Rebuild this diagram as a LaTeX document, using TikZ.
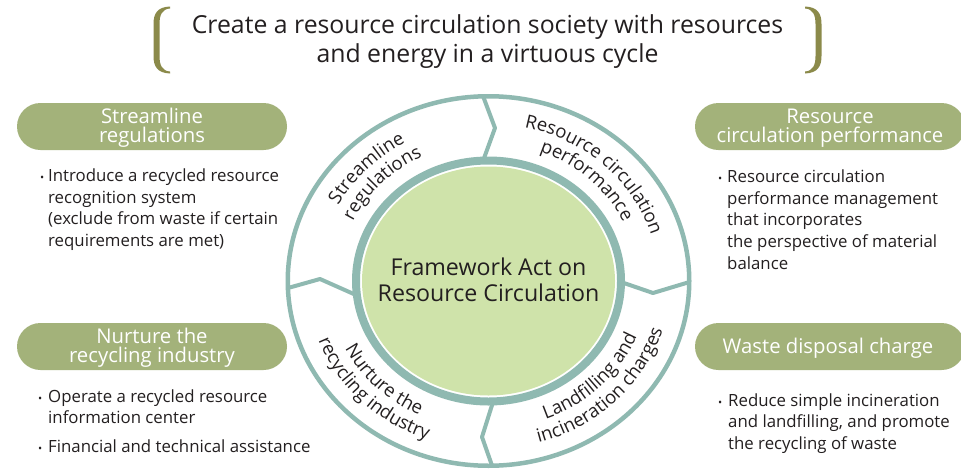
\documentclass[tikz,border=0pt]{standalone}
\usepackage{fontspec}
\setmainfont{Open Sans}
\usetikzlibrary{decorations.text,calc}
\definecolor{pillc}{HTML}{A3B27A}
\definecolor{ringc}{HTML}{8FB9B1}
\definecolor{corec}{HTML}{CFE3AA}
\definecolor{brkc}{HTML}{8B8A4A}
\definecolor{inkc}{HTML}{231F20}
\newcommand\titlef{\fontsize{24.8}{27}\selectfont}
\newcommand\pillf{\fontsize{20.3}{22}\selectfont}
\newcommand\bulf{\fontsize{16.8}{20}\selectfont}
\newcommand\ctrf{\fontsize{23.2}{27}\selectfont}
\newcommand\arcf{\fontsize{18.5}{20}\selectfont\color{inkc}}
\newcommand\arcline[5]{%
  \path[decorate,decoration={text along path,text align=center,text={|\arcf|#5}}]
    ($(C)+(#1:#3 and #4)$) arc[start angle=#1,end angle=#2,x radius=#3,y radius=#4];}
\tikzset{
  pillbox/.style={fill=pillc,draw=none,rounded corners=23.5pt,minimum width=270pt,minimum height=47pt,inner sep=0pt},
  pilltxt/.style={inner sep=0pt,anchor=base,text=white,font=\pillf},
  bultxt/.style={inner sep=0pt,anchor=base west,text=inkc,font=\bulf},
  bulmark/.style={inner sep=0pt,anchor=base west,text=inkc,font=\fontsize{11}{12}\selectfont},
  ringline/.style={draw=ringc,line width=4pt,line join=round},
}
\begin{document}
\begin{tikzpicture}[x=1pt,y=1pt]
\useasboundingbox (0,0) rectangle (961,-469);
\fill[white] (0,0) rectangle (961,-469);
% title brackets
\fill[brkc] (170,-6.5) .. controls (157,-7) and (153.5,-14) .. (153.5,-24) -- (153.5,-56)
  .. controls (153.5,-66) and (157,-73) .. (170,-73.5) -- (170,-71.5)
  .. controls (162,-71) and (159.5,-65) .. (159.5,-56) -- (159.5,-24)
  .. controls (159.5,-15) and (162,-9) .. (170,-8.5) -- cycle;
\begin{scope}[shift={(975,0)},xscale=-1]
\fill[brkc] (170,-6.5) .. controls (157,-7) and (153.5,-14) .. (153.5,-24) -- (153.5,-56)
  .. controls (153.5,-66) and (157,-73) .. (170,-73.5) -- (170,-71.5)
  .. controls (162,-71) and (159.5,-65) .. (159.5,-56) -- (159.5,-24)
  .. controls (159.5,-15) and (162,-9) .. (170,-8.5) -- cycle;
\end{scope}
\node[inner sep=0pt,anchor=base,text=inkc,font=\titlef] (t1) at (487.5,-33) {Create a resource circulation society with resources};
\node[inner sep=0pt,anchor=base,text=inkc,font=\titlef] (t2) at (487.5,-62) {and energy in a virtuous cycle};
% circle
\coordinate (C) at (488.5,-281);
\draw[ringline,line width=4.5pt] (C) ellipse[x radius=200.75,y radius=184.75];
\coordinate (d1o) at (483,-96); \coordinate (d1m) at (495,-128); \coordinate (d1i) at (483,-161);
\coordinate (d2o) at (288,-288); \coordinate (d2m) at (320,-279); \coordinate (d2i) at (356,-295);
\coordinate (d3i) at (621,-282); \coordinate (d3m) at (653,-293); \coordinate (d3o) at (689.5,-282);
\coordinate (d4i) at (493,-402); \coordinate (d4m) at (482,-437); \coordinate (d4o) at (492,-465.5);
\draw[ringline] (d1o) -- (d1m) -- (d1i);
\draw[ringline] (d2o) -- (d2m) -- (d2i);
\draw[ringline] (d3i) -- (d3m) -- (d3o);
\draw[ringline] (d4i) -- (d4m) -- (d4o);
\fill[white] (C) ellipse[x radius=128.5,y radius=116.5];
\fill[corec] (C) ellipse[x radius=126.5,y radius=114.5];
\draw[ringline,line width=8pt] (C) ellipse[x radius=132.5,y radius=120.5];
\node[inner sep=0pt,anchor=base,text=inkc,font=\ctrf] (c1) at (488.5,-275) {Framework Act on};
\node[inner sep=0pt,anchor=base,text=inkc,font=\ctrf] (c2) at (488.5,-301.5) {Resource Circulation};
% arc texts
\arcline{176}{96}{171}{158.2}{Streamline}
\arcline{176}{96}{150}{138.75}{regulations}
\arcline{87}{7}{170}{157.25}{Resource circulation}
\arcline{87}{7}{149}{137.8}{performance}
\arcline{-85}{-5}{160}{148}{Landfilling and}
\arcline{-85}{-5}{182}{168.35}{incineration charges}
\arcline{185}{265}{161}{148.9}{Nurture the}
\arcline{185}{265}{182}{168.35}{recycling industry}
% pills
\node[pillbox] (p1) at (152,-126.5) {};
\node[pillbox] (p2) at (830,-126.5) {};
\node[pillbox] (p3) at (152,-346.5) {};
\node[pillbox] (p4) at (830,-346.5) {};
\node[pilltxt] (h1a) at (152,-123) {Streamline};
\node[pilltxt] (h1b) at (152,-142) {regulations};
\node[pilltxt] (h2a) at (830,-123) {Resource};
\node[pilltxt] (h2b) at (830,-142) {circulation performance};
\node[pilltxt] (h3a) at (152,-343) {Nurture the};
\node[pilltxt] (h3b) at (152,-362) {recycling industry};
\node[pilltxt] (h4a) at (828,-353) {Waste disposal charge};
% bullets left top
\node[bulmark] (m1) at (40,-181) {•};
\node[bultxt] (l1a) at (48,-181) {Introduce a recycled resource};
\node[bultxt] (l1b) at (48,-203) {recognition system};
\node[bultxt] (l1c) at (48,-224.5) {(exclude from waste if certain};
\node[bultxt] (l1d) at (48,-246) {requirements are met)};
% right top
\node[bulmark] (m2) at (718,-182) {•};
\node[bultxt] (l2a) at (727,-182) {Resource circulation};
\node[bultxt] (l2b) at (727,-204) {performance management};
\node[bultxt] (l2c) at (727,-225.5) {that incorporates};
\node[bultxt] (l2d) at (727,-247) {the perspective of material};
\node[bultxt] (l2e) at (727,-269) {balance};
% left bottom
\node[bulmark] (m3) at (38,-402) {•};
\node[bultxt] (l3a) at (48,-402) {Operate a recycled resource};
\node[bultxt] (l3b) at (48,-423) {information center};
\node[bulmark] (m4) at (38,-452) {•};
\node[bultxt] (l3c) at (48,-452) {Financial and technical assistance};
% right bottom
\node[bulmark] (m5) at (718,-406) {•};
\node[bultxt] (l4a) at (728,-406) {Reduce simple incineration};
\node[bultxt] (l4b) at (728,-427) {and landfilling, and promote};
\node[bultxt] (l4c) at (728,-449) {the recycling of waste};
\end{tikzpicture}
\end{document}
